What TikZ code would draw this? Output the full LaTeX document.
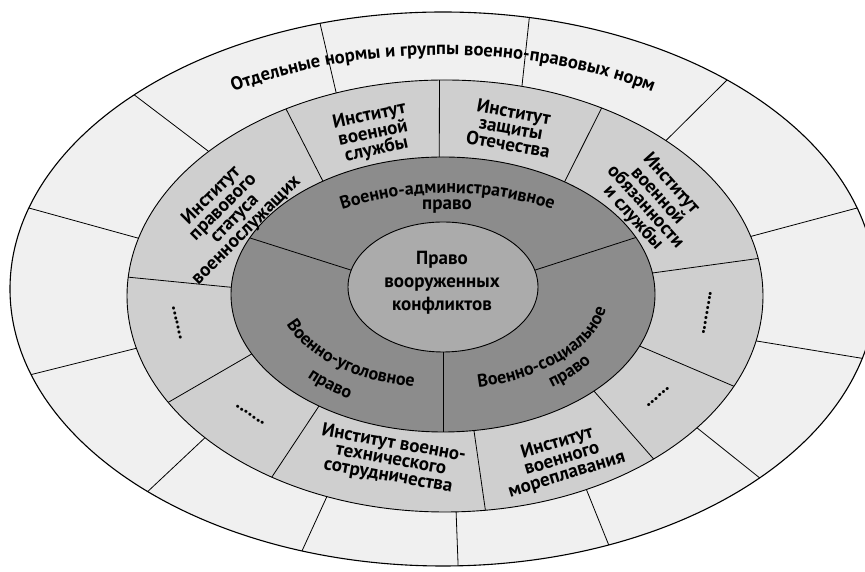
\documentclass[tikz,border=0pt]{standalone}
\usepackage{fontspec}
\setmainfont{PT Sans}
\usetikzlibrary{calc,decorations.text}
\newcommand{\ringfont}{\fontsize{19}{16.5}\selectfont\bfseries}
\newcommand{\corefont}{\fontsize{19}{23}\selectfont\bfseries}
\newcommand{\curvefont}{\fontsize{18}{18}\selectfont\bfseries}
\newcommand{\topfont}{\fontsize{18.6}{18}\selectfont\bfseries}

\begin{document}
\begin{tikzpicture}[
    x=1pt, y=1pt,
    outerring/.style={draw, line width=1.1pt, fill=black!6},
    midring/.style={draw, line width=0.9pt, fill=black!19},
    darkring/.style={draw, line width=0.9pt, fill=black!45},
    coreellipse/.style={draw, line width=0.9pt, fill=black!33},
    sep/.style={line width=0.8pt},
    lbl/.style={align=center, font=\ringfont, inner sep=0pt},
    dots/.style={font=\ringfont, inner sep=0pt},
    curved/.style 2 args={decorate, decoration={text along path, text align=center, text={|#1|#2}}}
]
    \useasboundingbox (0,0) rectangle (865,572);
    \clip (0,0) rectangle (865,572);
    \coordinate (c1) at (443,283);
    \coordinate (c2) at (445,276);
    \coordinate (c3) at (443,277.5);
    \coordinate (c4) at (443,285);

    \draw[outerring] (c1) ellipse [x radius=433pt, y radius=277pt];
    \draw[midring] (c2) ellipse [x radius=318pt, y radius=216pt];
    \draw[darkring] (c3) ellipse [x radius=212pt, y radius=137.5pt];
    \draw[coreellipse] (c4) ellipse [x radius=95pt, y radius=65pt];

    \foreach \a/\b in {106.5/110, 78.5/76, 49/46, 17/16, -14.5/-12, -43/-37.6, -67.5/-63.6,
                       -88/-88, -109/-111.8, -133/-139, -162/-166, 163/164.5, 135.5/138}
        \draw[sep] ($(c1)+(\a:433 and 277)$) -- ($(c2)+(\b:318 and 216)$);
    \foreach \a/\b in {120/124.5, 91/91, 60.5/55, 10/9, -24.7/-22, -49/-44.6, -82.7/-81.6,
                       -123/-125.8, -150.5/-154.4, 175/177}
        \draw[sep] ($(c2)+(\a:318 and 216)$) -- ($(c3)+(\b:212 and 137.5)$);
    \foreach \a/\b in {155.7/165, 24.5/15, -90/-90}
        \draw[sep] ($(c3)+(\a:212 and 137.5)$) -- ($(c4)+(\b:95 and 65)$);

    \path[curved={\topfont}{Отдельные нормы и группы военно-правовых норм}]
        ($(c1)+(150:388 and 234)$) arc[start angle=150, end angle=30, x radius=388pt, y radius=234pt];

    \node[lbl, rotate=45] (status) at (229,359) {Институт\\правового\\статуса\\военнослужащих};
    \node[lbl, rotate=12] (service) at (373,439) {Институт\\военной\\службы};
    \node[lbl, rotate=-10] (defence) at (511,444) {Институт\\защиты\\Отечества};
    \node[lbl, rotate=-48] (duty) at (652,371) {Институт\\военной\\обязанности\\и службы};
    \node[lbl, rotate=-10] (techcoop) at (391,112) {Институт военно-\\технического\\сотрудничества};
    \node[lbl, rotate=17] (navy) at (562,113) {Институт\\военного\\мореплавания};

    \node[dots, rotate=-77] (dotsl) at (177,249) {.......};
    \node[dots, rotate=-34] (dotsll) at (250,157) {.......};
    \node[dots, rotate=80] (dotsr) at (707,259) {.........};
    \node[dots, rotate=41] (dotsrl) at (658,175) {......};

    \path[curved={\curvefont}{Военно-административное}] (330,358) .. controls (405,386) and (490,386) .. (565,358);
    \node[lbl, anchor=base] (adm) at (447,362) {право};
    \path[curved={\curvefont}{Военно-уголовное}]
        ($(c3)+(185:165 and 94)$) arc[start angle=185, end angle=268, x radius=165pt, y radius=94pt];
    \path[curved={\curvefont}{право}]
        ($(c3)+(199:186.5 and 121)$) arc[start angle=199, end angle=259, x radius=186.5pt, y radius=121pt];
    \path[curved={\curvefont}{Военно-социальное}]
        ($(c3)+(-84:165 and 95)$) arc[start angle=-84, end angle=2, x radius=165pt, y radius=95pt];
    \path[curved={\curvefont}{право}]
        ($(c3)+(-61:182 and 116)$) arc[start angle=-61, end angle=-26, x radius=182pt, y radius=116pt];

    \node[lbl, font=\corefont] (law) at (442,289) {Право\\вооруженных\\конфликтов};
\end{tikzpicture}
\end{document}
